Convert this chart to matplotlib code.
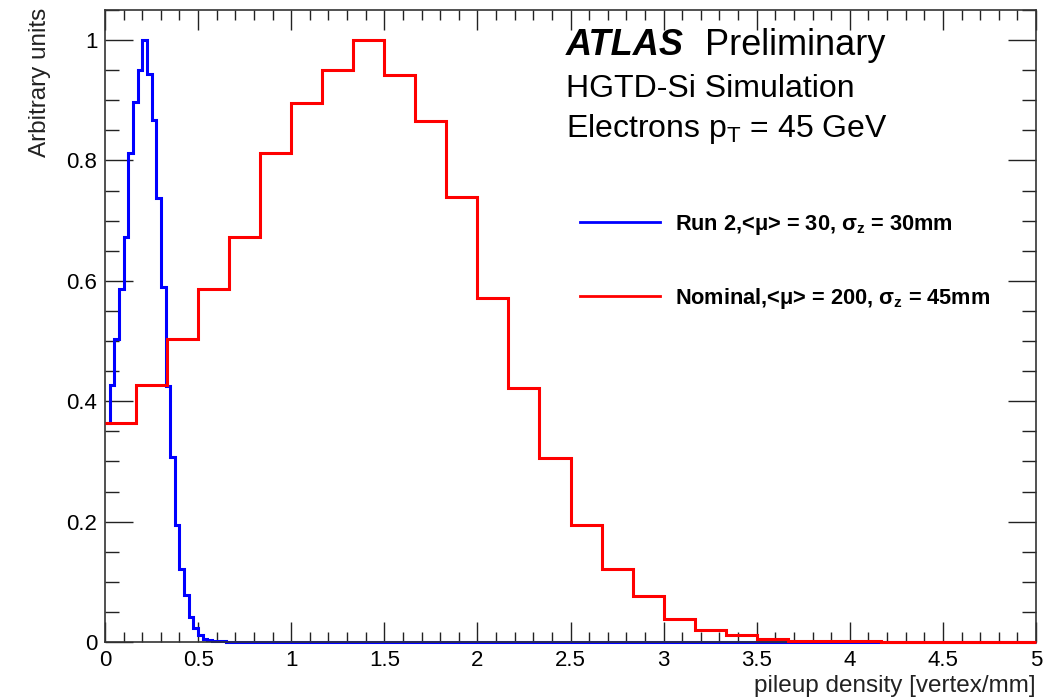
import numpy as np
import matplotlib
matplotlib.use('Agg')
import matplotlib.pyplot as plt
from matplotlib.lines import Line2D
from matplotlib.ticker import MultipleLocator, FuncFormatter

plt.rcParams['font.family'] = 'Liberation Sans'
plt.rcParams['mathtext.fontset'] = 'custom'
plt.rcParams['mathtext.rm'] = 'Liberation Sans'
plt.rcParams['mathtext.it'] = 'Liberation Sans:italic'
plt.rcParams['mathtext.bf'] = 'Liberation Sans:bold'

# histogram contents (normalised to peak = 1)
# Run 2: 200 bins over 0-5, only the first bins are non zero
run2_nbins = 200
run2_vals = [0.364, 0.427, 0.503, 0.586, 0.673, 0.813, 0.897, 0.950, 1.000, 0.944,
             0.867, 0.738, 0.590, 0.425, 0.307, 0.194, 0.122, 0.078, 0.042, 0.023,
             0.012, 0.005, 0.003, 0.002, 0.001, 0.001]
# Nominal: 30 bins over 0-5
nominal_nbins = 30
nominal_vals = [0.364, 0.427, 0.503, 0.587, 0.673, 0.813, 0.896, 0.950, 1.000, 0.942,
                0.866, 0.739, 0.571, 0.422, 0.306, 0.195, 0.121, 0.077, 0.038, 0.020,
                0.011, 0.005, 0.002, 0.001, 0.001, 0.0, 0.0, 0.0, 0.0, 0.0]
x_range = (0.0, 5.0)

labels = ['Run 2,<\u03bc> = 30, \u03c3$_\\mathbf{z}$ = 30mm',
          'Nominal,<\u03bc> = 200, \u03c3$_\\mathbf{z}$ = 45mm']

W, H = 1043, 700
fig = plt.figure(figsize=(W / 100, H / 100), dpi=100)
ax = fig.add_axes([105 / W, 58 / H, 931 / W, 632 / H])

# bin edges
run2_edges = np.linspace(x_range[0], x_range[1], run2_nbins + 1)
nominal_edges = np.linspace(x_range[0], x_range[1], nominal_nbins + 1)
run2_full = np.zeros(run2_nbins)
run2_full[:len(run2_vals)] = run2_vals

# blue sits under the frame, red on top of it (empty bins run along the x axis)
ax.stairs(run2_full, run2_edges, baseline=None, color='#0000ff', linewidth=2.2,
          zorder=2, clip_on=False)
ax.stairs(nominal_vals, nominal_edges, baseline=None, color='#ff0000', linewidth=2.2,
          zorder=3, clip_on=False)

ax.set_xlim(*x_range)
ax.set_ylim(0, 1.05)

# ROOT-like ticks: inside, on all four sides
ax.xaxis.set_major_locator(MultipleLocator(0.5))
ax.xaxis.set_minor_locator(MultipleLocator(0.1))
ax.yaxis.set_major_locator(MultipleLocator(0.2))
ax.yaxis.set_minor_locator(MultipleLocator(0.05))
fmt = FuncFormatter(lambda v, p: '%g' % round(v, 3))
ax.xaxis.set_major_formatter(fmt)
ax.yaxis.set_major_formatter(fmt)
ax.tick_params(which='both', direction='in', top=True, right=True,
               labelsize=16, color='#222222', width=1.0)
ax.tick_params(axis='x', which='major', length=14.5, pad=6)
ax.tick_params(axis='x', which='minor', length=7.2)
ax.tick_params(axis='y', which='major', length=20, pad=5.5)
ax.tick_params(axis='y', which='minor', length=10)
for sp in ax.spines.values():
    sp.set_color('#333333')
    sp.set_linewidth(1.2)

# axis titles, ROOT style (at the axis ends)
fig.text(1036 / W, 1 - 692 / H, 'pileup density [vertex/mm]', fontsize=17.5,
         ha='right', va='baseline', color='#222222')
fig.text(29 / W, 1 - 8 / H, 'Arbitrary units', fontsize=17.5, rotation=90,
         ha='right', va='top', color='#222222', rotation_mode='anchor')

# ATLAS label
fig.text(566 / W, 1 - 55 / H, 'ATLAS', fontsize=26, fontweight='bold',
         fontstyle='italic', va='baseline')
fig.text(705 / W, 1 - 55 / H, 'Preliminary', fontsize=26, va='baseline')
fig.text(566 / W, 1 - 97 / H, 'HGTD-Si Simulation', fontsize=23, va='baseline')
fig.text(566 / W, 1 - 137 / H, 'Electrons p$_\\mathrm{T}$ = 45 GeV', fontsize=23,
         va='baseline')

# legend
handles = [Line2D([], [], color='#0000ff', linewidth=2),
           Line2D([], [], color='#ff0000', linewidth=2)]
ax.legend(handles, labels, loc='upper left',
          bbox_to_anchor=(580 / W, 1 - 213 / H), bbox_transform=fig.transFigure,
          frameon=False, borderpad=0, borderaxespad=0,
          handlelength=3.65, handletextpad=0.72, labelspacing=2.25,
          prop={'size': 15.7, 'weight': 'bold'})

fig.savefig('out.png', dpi=100)
